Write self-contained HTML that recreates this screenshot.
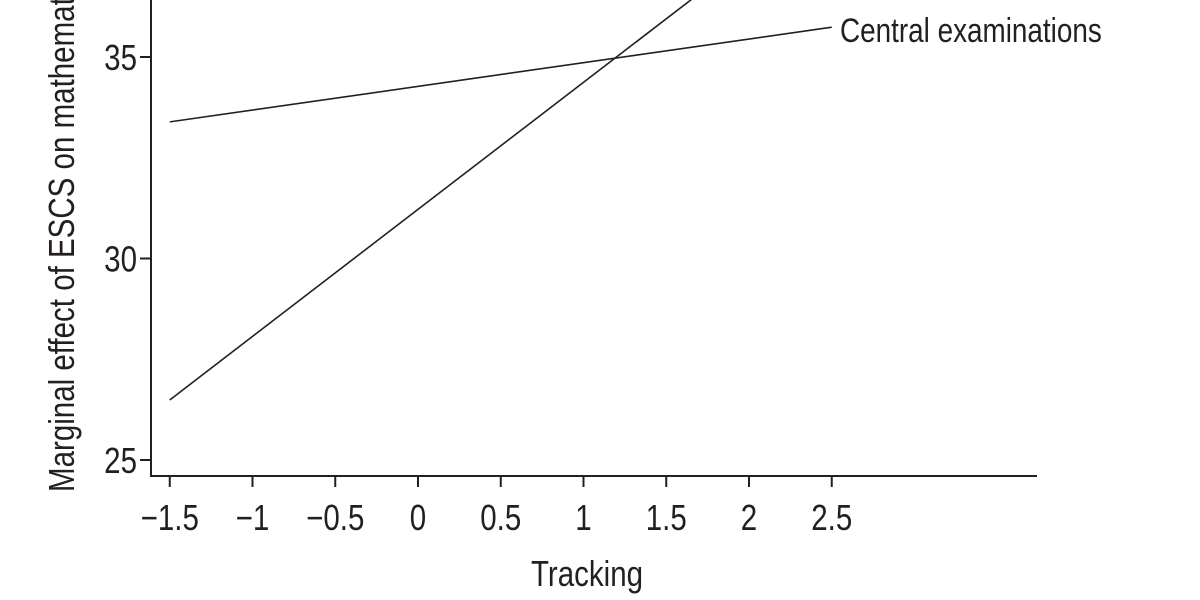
<!DOCTYPE html>
<html><head><meta charset="utf-8"><style>
html,body{margin:0;padding:0;background:#fff;width:1200px;height:600px;overflow:hidden}
text{font-family:"Liberation Sans",Arial,sans-serif;fill:#231f20}
</style></head><body>
<svg id="chart" width="1200" height="600" viewBox="0 0 1200 600" xmlns="http://www.w3.org/2000/svg">
<g id="plot"></g>
</svg>
<script>
const xTicks=[-1.5,-1,-0.5,0,0.5,1,1.5,2,2.5];
const xTickLabels=["\u22121.5","\u22121","\u22120.5","0","0.5","1","1.5","2","2.5"];
const yTicks=[25,30,35];
const yTickLabels=["25","30","35"];
const centralX=[-1.5,2.5];
const centralY=[33.39,35.74];
const trackingX=[-1.5,2.5];
const trackingY=[26.49,39.1];
const seriesLabel="Central examinations";

const NS="http://www.w3.org/2000/svg";
const g=document.getElementById('plot');
function X(v){return 418+v*165.5;}
function Y(v){return 57+(35-v)*40.3;}
function mk(t,a){const e=document.createElementNS(NS,t);for(const k in a)e.setAttribute(k,a[k]);g.appendChild(e);return e;}

const clip=document.createElementNS(NS,'clipPath');clip.setAttribute('id','c');
const r=document.createElementNS(NS,'rect');r.setAttribute('x',0);r.setAttribute('y',0);r.setAttribute('width',1200);r.setAttribute('height',476);
clip.appendChild(r);document.getElementById('chart').appendChild(clip);

let e=mk('line',{x1:151,y1:0,x2:151,y2:476,stroke:'#231f20','stroke-width':2});


e=mk('line',{x1:150,y1:476,x2:1037,y2:476,stroke:'#231f20','stroke-width':2});



xTicks.forEach((v,i)=>{
  const t=mk('line',{x1:X(v),y1:476,x2:X(v),y2:487,stroke:'#231f20','stroke-width':2});
  
  
  const l=mk('text',{x:X(v),y:530,'text-anchor':'middle','font-size':36,transform:`translate(${X(v)},0) scale(0.82,1) translate(${-X(v)},0)`});
  l.textContent=xTickLabels[i];
  
  
});
yTicks.forEach((v,i)=>{
  const t=mk('line',{x1:140,y1:Y(v),x2:151,y2:Y(v),stroke:'#231f20','stroke-width':2});
  
  
  const l=mk('text',{x:137,y:Y(v)+13,'text-anchor':'end','font-size':36,transform:`translate(137,0) scale(0.82,1) translate(-137,0)`});
  l.textContent=yTickLabels[i];
  
  
});

e=mk('line',{x1:X(centralX[0]),y1:Y(centralY[0]),x2:X(centralX[1]),y2:Y(centralY[1]),stroke:'#231f20','stroke-width':1.6,'clip-path':'url(#c)'});


e=mk('line',{x1:X(trackingX[0]),y1:Y(trackingY[0]),x2:X(trackingX[1]),y2:Y(trackingY[1]),stroke:'#231f20','stroke-width':1.6,'clip-path':'url(#c)'});



e=mk('text',{x:840,y:42,'font-size':34,transform:'translate(840,0) scale(0.82,1) translate(-840,0)'});
e.textContent=seriesLabel;



e=mk('text',{x:587,y:586,'text-anchor':'middle','font-size':36,transform:'translate(587,0) scale(0.82,1) translate(-587,0)'});
e.textContent="Tracking";



e=mk('text',{x:0,y:0,'font-size':36,transform:'translate(74,492) rotate(-90) scale(0.82,1)'});
e.textContent="Marginal effect of ESCS on mathematics";


</script>
</body></html>
